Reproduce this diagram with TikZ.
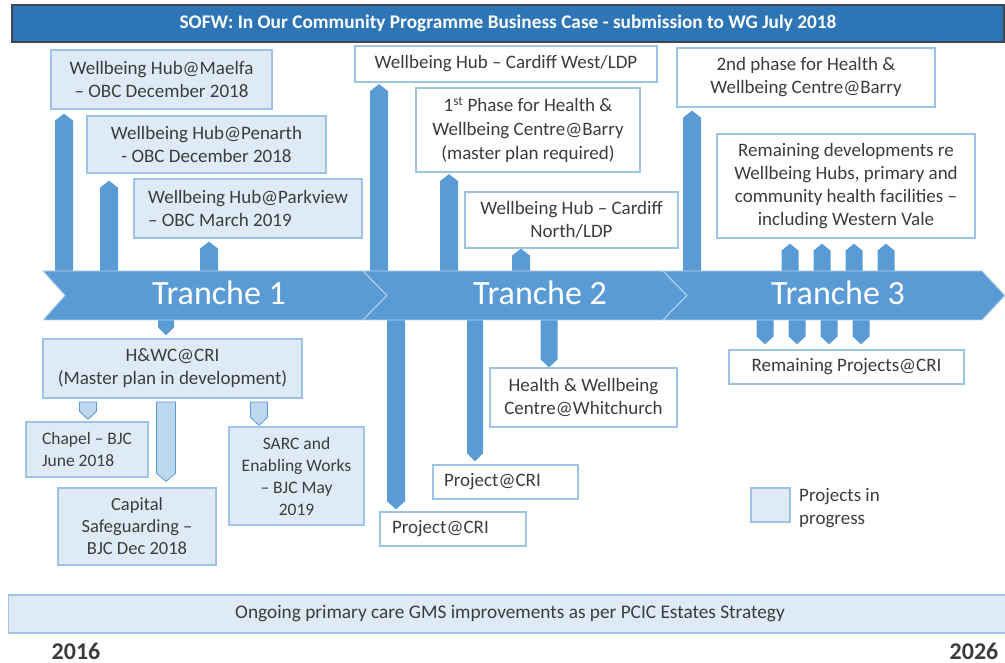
\documentclass[tikz,border=0pt]{standalone}
\usepackage{fontspec}
\setmainfont{Carlito}
\usetikzlibrary{calc}

\definecolor{tlblue}{HTML}{5B9BD5}
\definecolor{titleblue}{HTML}{2E75B6}
\definecolor{titleline}{HTML}{3F4650}
\definecolor{lightfill}{HTML}{DEEBF7}
\definecolor{boxline}{HTML}{9DC3E6}
\definecolor{arrowlight}{HTML}{BDD7EE}
\definecolor{txt}{HTML}{3C3C3C}

\begin{document}
\begin{tikzpicture}[x=1pt,y=-1pt,
  box/.style={draw=boxline, line width=1.3pt, inner sep=0pt, align=center,
    text=txt, font=\fontsize{19}{23}\selectfont},
  lbox/.style={box, fill=lightfill},
  wbox/.style={box, fill=white},
  small/.style={font=\fontsize{17.5}{22}\selectfont},
  sz/.style 2 args={minimum width=#1pt, minimum height=#2pt},
  tranche/.style={text=white, font=\fontsize{34}{40}\selectfont, inner sep=0pt},
  chevron/.style={fill=tlblue, draw=white!55!tlblue, line width=0.9pt},
  year/.style={text=txt, font=\bfseries\fontsize{24}{28}\selectfont, inner sep=0pt, anchor=base},
  shaft/.code={\def\shafthw{#1pt}},
  shaft=9,
  % bar with a pointed end, from the foot (start) to the tip (target)
  barup/.style={to path={let \p1=(\tikztostart), \p2=(\tikztotarget) in
    (\x1-\shafthw,\y1) -- (\x1-\shafthw,\y2-7pt) -- (\x1,\y2)
    -- (\x1+\shafthw,\y2-7pt) -- (\x1+\shafthw,\y1) -- cycle}},
  bardown/.style={to path={let \p1=(\tikztostart), \p2=(\tikztotarget) in
    (\x1-\shafthw,\y1) -- (\x1-\shafthw,\y2+8pt) -- (\x1,\y2)
    -- (\x1+\shafthw,\y2+8pt) -- (\x1+\shafthw,\y1) -- cycle}},
  darkbar/.style={fill=tlblue},
  lightbar/.style={fill=arrowlight, draw=tlblue, line width=0.8pt},
]
\useasboundingbox (0,0) rectangle (1005,663);

% ---------- title ----------
\node[draw=titleline, line width=1.6pt, fill=titleblue, sz={992}{37}, inner sep=0pt,
  text=white, font=\bfseries\fontsize{19.3}{22}\selectfont] (title) at (508,23.5)
  {SOFW: In Our Community Programme Business Case - submission to WG July 2018};

% ---------- boxes above the timeline ----------
\node[lbox, sz={221}{59}] (maelfa) at (161.5,79.5) {Wellbeing Hub@Maelfa\\– OBC December 2018};
\node[lbox, sz={239}{57}] (penarth) at (206.5,144.5) {Wellbeing Hub@Penarth\\- OBC December 2018};
\node[lbox, sz={228}{59}, align=left] (parkview) at (248,208.5) {Wellbeing Hub@Parkview\\– OBC March 2019};
\node[wbox, sz={302}{36}] (cwest) at (506,64) {Wellbeing Hub – Cardiff West/LDP};
\node[wbox, sz={224}{84}, font=\fontsize{19}{24}\selectfont] (barry1) at (528,130)
  {1\textsuperscript{st} Phase for Health \&\\Wellbeing Centre@Barry\\(master plan required)};
\node[wbox, sz={213}{56}] (cnorth) at (571.5,220) {Wellbeing Hub – Cardiff\\North/LDP};
\node[wbox, sz={258}{59}] (barry2) at (806,77.5) {2nd phase for Health \&\\Wellbeing Centre@Barry};
\node[wbox, sz={258}{104}] (remain) at (846,186)
  {Remaining developments re\\Wellbeing Hubs, primary and\\community health facilities –\\including Western Vale};

% ---------- boxes below the timeline ----------
\node[lbox, sz={259}{59}] (hwc) at (172.5,368.5) {H\&WC@CRI\\(Master plan in development)};
\node[lbox, sz={122}{55}, small, align=left] (chapel) at (87,449.5) {Chapel – BJC\\June 2018};
\node[lbox, sz={158}{77}, font=\fontsize{18.5}{22}\selectfont] (capital) at (137,526.5)
  {Capital\\Safeguarding –\\BJC Dec 2018};
\node[lbox, sz={135}{98}, small] (sarc) at (296.5,476) {SARC and\\Enabling Works\\– BJC May\\2019};
\node[wbox, sz={187}{59}] (whit) at (583.5,397.5) {Health \& Wellbeing\\Centre@Whitchurch};
\node[wbox, sz={145}{34}, text width=123pt, align=left] (proj1) at (505.5,482) {Project@CRI};
\node[wbox, sz={146}{34}, text width=122pt, align=left] (proj2) at (453,529) {Project@CRI};
\node[wbox, sz={235}{34}] (remproj) at (846.5,367) {Remaining Projects@CRI};

% ---------- legend ----------
\node[lbox, sz={39}{34}] (legbox) at (770.5,505) {};
\node[anchor=west, align=left, inner sep=0pt, text=txt, font=\fontsize{19}{23}\selectfont]
  (legtext) at (799,508.5) {Projects in\\progress};

% ---------- feet of the bars on the timeline ----------
\foreach \n/\x in {u1/64, u2/109, u3/209, u4/379, u5/449, u6/521, u7/692,
                   u8/790, u9/822, u10/854, u11/886}
  \coordinate (\n) at (\x,271);
\foreach \n/\x in {d1/166, d2/396, d3/475, d4/549, d5/765, d6/797, d7/829, d8/861}
  \coordinate (\n) at (\x,319);
\foreach \n/\x in {l1/88, l2/166, l3/259}
  \coordinate (\n) at (\x,402);

% ---------- bars up to the boxes above ----------
\path[darkbar, barup] (u1) to ($(u1 |- maelfa.south)+(0,4)$);
\path[darkbar, barup] (u2) to ($(u2 |- penarth.south)+(0,7)$);
\path[darkbar, barup] (u3) to ($(u3 |- parkview.south)+(0,3)$);
\path[darkbar, barup] (u4) to ($(u4 |- cwest.south)+(0,1.5)$);
\path[darkbar, barup] (u5) to ($(u5 |- barry1.south)+(0,1.5)$);
\path[darkbar, barup] (u6) to ($(u6 |- cnorth.south)+(0,0)$);
\path[darkbar, barup] (u7) to ($(u7 |- barry2.south)+(0,3)$);
\foreach \n in {u8,u9,u10,u11}
  \path[darkbar, barup, shaft=8.5] (\n) to ($(\n |- remain.south)+(0,5)$);

% ---------- bars down to the boxes below ----------
\path[darkbar, bardown, shaft=8] (d1) to ($(d1 |- hwc.north)+(0,-3)$);
\path[darkbar, bardown] (d2) to ($(d2 |- proj2.north)+(0,-2)$);
\path[darkbar, bardown, shaft=8] (d3) to ($(d3 |- proj1.north)+(0,-3)$);
\path[darkbar, bardown, shaft=8.5] (d4) to ($(d4 |- whit.north)+(0,0)$);
\foreach \n in {d5,d6,d7,d8}
  \path[darkbar, bardown, shaft=8.5] (\n) to ($(\n |- remproj.north)+(0,-5)$);

\path[lightbar, bardown, shaft=8.5] (l1) to ($(l1 |- chapel.north)+(0,-2)$);
\path[lightbar, bardown, shaft=9.5] (l2) to ($(l2 |- capital.north)+(0,-6)$);
\path[lightbar, bardown, shaft=8.5] (l3) to ($(l3 |- sarc.north)+(0,-1)$);

% ---------- timeline chevrons ----------
\fill[chevron] (43,271) -- (363,271) -- (387,295.5) -- (363,320) -- (43,320) -- (65,295.5) -- cycle;
\fill[chevron] (363,271) -- (663,271) -- (687,295.5) -- (663,320) -- (363,320) -- (387,295.5) -- cycle;
\fill[chevron] (663,271) -- (982,271) -- (1005,295.5) -- (982,320) -- (663,320) -- (687,295.5) -- cycle;
\node[tranche] (t1) at (219,293) {Tranche 1};
\node[tranche] (t2) at (540,293) {Tranche 2};
\node[tranche] (t3) at (838,293) {Tranche 3};

% ---------- ongoing strip and years ----------
\node[lbox, sz={1003}{38}, font=\fontsize{19.3}{23}\selectfont] (gms) at (510,614)
  {Ongoing primary care GMS improvements as per PCIC Estates Strategy};
\node[year] (y2016) at (76,659) {2016};
\node[year] (y2026) at (974,659) {2026};
\end{tikzpicture}
\end{document}
